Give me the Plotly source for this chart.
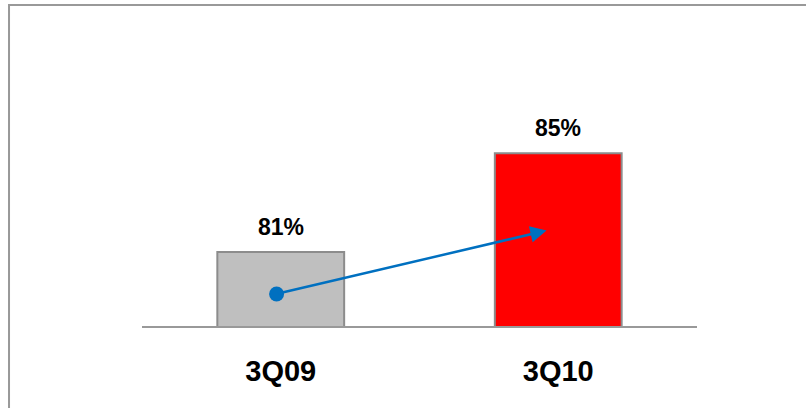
import plotly.graph_objects as go

categories = ["3Q09", "3Q10"]
values = [81, 85]
value_labels = ["81%", "85%"]
bar_colors = ["#BFBFBF", "#FF0000"]

# arrow (trend indicator) endpoints in data units (x = category index)
arrow_start = (-0.015, 79.3)
arrow_end = (0.958, 81.87)
y_range = [78, 90]

xpos = list(range(len(categories)))

fig = go.Figure()
fig.add_trace(go.Bar(
    x=xpos, y=values,
    marker=dict(color=bar_colors, line=dict(color="#8C8C8C", width=2)),
    width=0.457,
    hoverinfo="skip",
))

fig.add_trace(go.Scatter(
    x=[arrow_start[0]], y=[arrow_start[1]],
    mode="markers",
    marker=dict(color="#0070C0", size=15),
    hoverinfo="skip",
))

for xp, v, t in zip(xpos, values, value_labels):
    fig.add_annotation(x=xp, y=v, text=t, showarrow=False, yanchor="bottom", yshift=10,
                       font=dict(family="Liberation Sans", size=23, color="#000000", weight="bold"))

fig.add_annotation(
    x=arrow_end[0], y=arrow_end[1], ax=arrow_start[0], ay=arrow_start[1],
    xref="x", yref="y", axref="x", ayref="y",
    showarrow=True, arrowhead=2, arrowsize=1.3, arrowwidth=2.5, arrowcolor="#0070C0", text="",
)

# outer frame
fig.add_shape(type="rect", xref="paper", yref="paper",
              x0=-0.2396, x1=1.3, y0=-0.4, y1=1.0845,
              line=dict(color="#999999", width=2), fillcolor="rgba(0,0,0,0)", layer="below")

fig.update_layout(
    width=806, height=408,
    margin=dict(l=142, r=109, t=30, b=82),
    paper_bgcolor="white", plot_bgcolor="white",
    showlegend=False,
    font=dict(family="Liberation Sans", color="#000000"),
    xaxis=dict(showline=True, linecolor="#999999", linewidth=2,
               showgrid=False, zeroline=False, ticks="", range=[-0.5, 1.5],
               tickvals=xpos, ticktext=categories,
               tickfont=dict(family="Liberation Sans", size=29, color="#000000", weight="bold"),
               ticklabelstandoff=18),
    yaxis=dict(range=y_range, visible=False, showgrid=False, zeroline=False),
)

fig.write_html("out.html")
